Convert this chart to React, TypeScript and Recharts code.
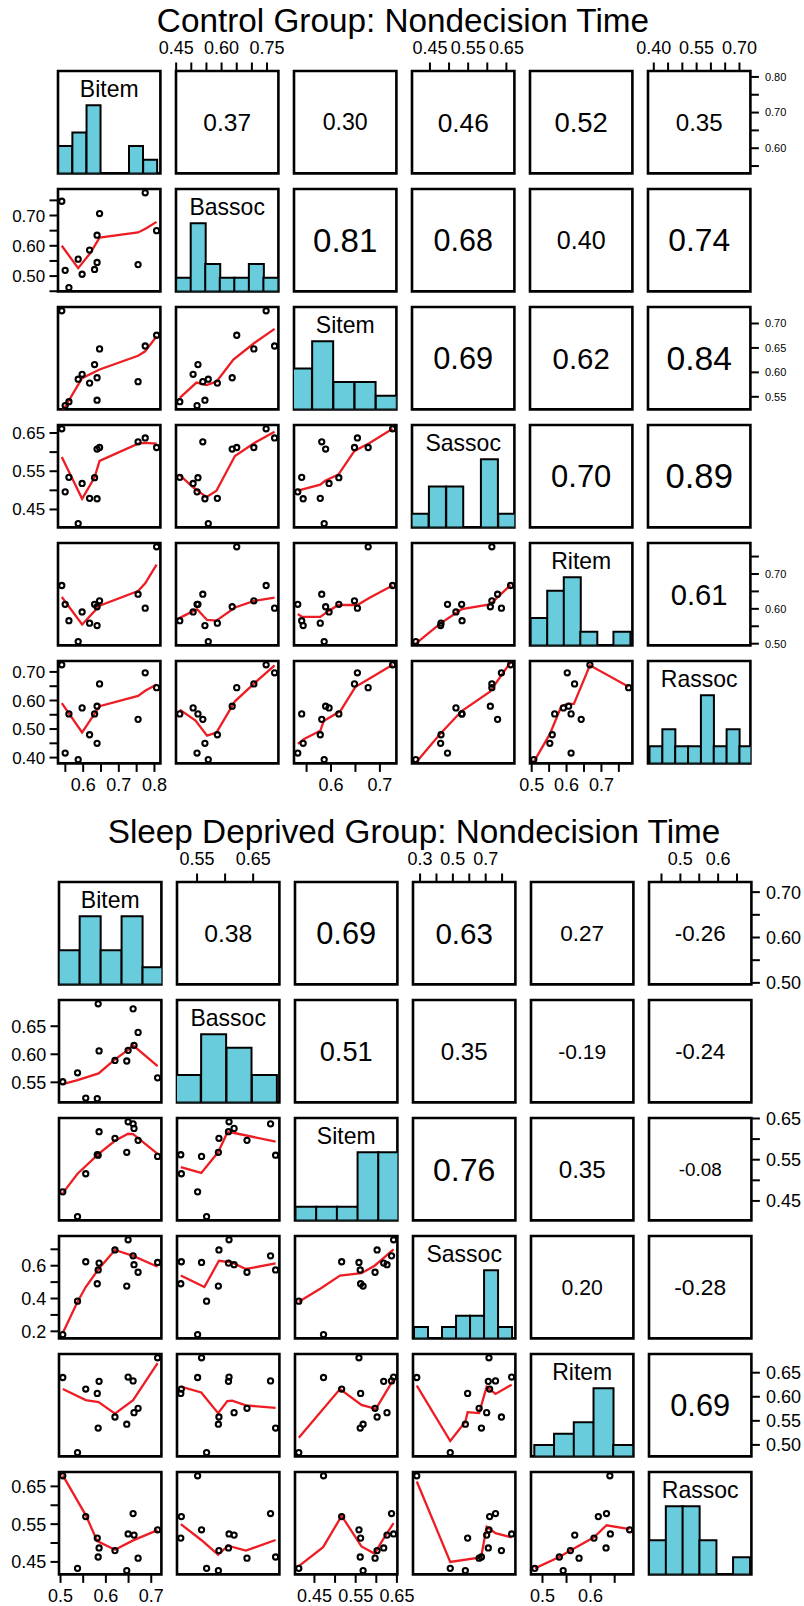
import React from "react";
import { Bar, ComposedChart, Line, ReferenceArea, Scatter, XAxis, YAxis } from "recharts";

const VARS = ["Bitem", "Bassoc", "Sitem", "Sassoc", "Ritem", "Rassoc"];

// Control group, one value per subject (same subject order in every array)
const ctlBitem = [0.54, 0.5495, 0.56, 0.586, 0.597, 0.618, 0.632, 0.639, 0.639, 0.646, 0.754, 0.774, 0.806];
const ctlBassoc = [0.747, 0.519, 0.462, 0.556, 0.506, 0.586, 0.522, 0.545, 0.635, 0.7065, 0.538, 0.775, 0.65];
const ctlSitem = [0.726, 0.532, 0.54, 0.586, 0.596, 0.578, 0.616, 0.543, 0.589, 0.648, 0.581, 0.654, 0.676];
const ctlSassoc = [0.661, 0.496, 0.534, 0.413, 0.518, 0.479, 0.533, 0.478, 0.608, 0.612, 0.627, 0.637, 0.612];
const ctlRitem = [0.667, 0.613, 0.566, 0.506, 0.591, 0.559, 0.613, 0.552, 0.606, 0.623, 0.642, 0.602, 0.778];
const ctlRassoc = [0.725, 0.416, 0.553, 0.393, 0.574, 0.48, 0.553, 0.45, 0.58, 0.658, 0.534, 0.697, 0.645];

// Sleep deprived group
const sdBitem = [0.505, 0.5375, 0.5556, 0.581, 0.585, 0.583, 0.62, 0.646, 0.649, 0.662, 0.66, 0.671, 0.714];
const sdBassoc = [0.551, 0.567, 0.522, 0.521, 0.606, 0.69, 0.589, 0.588, 0.607, 0.616, 0.681, 0.639, 0.558];
const sdSitem = [0.472, 0.412, 0.516, 0.562, 0.618, 0.561, 0.602, 0.568, 0.642, 0.626, 0.637, 0.597, 0.558];
const sdSassoc = [0.18, 0.384, 0.624, 0.49, 0.616, 0.574, 0.696, 0.476, 0.758, 0.606, 0.66, 0.56, 0.62];
const sdRitem = [0.64, 0.484, 0.616, 0.607, 0.632, 0.535, 0.558, 0.543, 0.641, 0.567, 0.633, 0.576, 0.681];
const sdRassoc = [0.678, 0.433, 0.57, 0.513, 0.487, 0.463, 0.48, 0.427, 0.524, 0.521, 0.578, 0.46, 0.535];

// correlations, upper triangle read row by row
const ctlCors = [0.37, 0.3, 0.46, 0.52, 0.35, 0.81, 0.68, 0.4, 0.74, 0.69, 0.62, 0.84, 0.7, 0.89, 0.61];
const sdCors = [0.38, 0.69, 0.63, 0.27, -0.26, 0.51, 0.35, -0.19, -0.24, 0.76, 0.35, -0.08, 0.2, -0.28, 0.69];

// histogram counts and the span [first break, last break] of each one
const ctlHistCounts = [[2, 3, 5, 0, 0, 2, 1], [1, 5, 2, 1, 1, 2, 1], [3, 5, 2, 2, 1], [1, 3, 3, 0, 5, 1], [2, 4, 5, 1, 0, 1], [1, 2, 1, 1, 4, 1, 2, 1]];
const ctlHistSpan = [[0.53, 0.808], [0.45, 0.786], [0.518, 0.735], [0.402, 0.674], [0.497, 0.782], [0.385, 0.745]];
const sdHistCounts = [[2, 4, 2, 4, 1], [2, 5, 4, 2], [1, 1, 1, 5, 5], [1, 0, 1, 2, 2, 6, 1], [1, 2, 3, 6, 1], [2, 4, 4, 2, 0, 1]];
const sdHistSpan = [[0.496, 0.727], [0.512, 0.693], [0.404, 0.655], [0.163, 0.761], [0.483, 0.688], [0.417, 0.684]];

// smoother lines, [x, y], named by row and column of the panel
const c21 = [[0.54, 0.6], [0.586, 0.526], [0.62, 0.576], [0.646, 0.627], [0.754, 0.644], [0.776, 0.657], [0.806, 0.679]];
const c31 = [[0.54, 0.518], [0.597, 0.588], [0.646, 0.606], [0.754, 0.634], [0.774, 0.643], [0.806, 0.674]];
const c41 = [[0.54, 0.587], [0.597, 0.478], [0.632, 0.534], [0.646, 0.577], [0.754, 0.622], [0.774, 0.624], [0.806, 0.622]];
const c51 = [[0.54, 0.634], [0.597, 0.555], [0.646, 0.609], [0.754, 0.651], [0.774, 0.673], [0.806, 0.727]];
const c61 = [[0.54, 0.591], [0.597, 0.488], [0.646, 0.58], [0.754, 0.616], [0.774, 0.634], [0.806, 0.656]];
const c32 = [[0.462, 0.548], [0.517, 0.579], [0.55, 0.574], [0.583, 0.581], [0.639, 0.626], [0.708, 0.66], [0.775, 0.689]];
const c42 = [[0.462, 0.54], [0.506, 0.508], [0.55, 0.482], [0.583, 0.499], [0.644, 0.59], [0.708, 0.624], [0.775, 0.653]];
const c52 = [[0.462, 0.574], [0.519, 0.599], [0.552, 0.568], [0.583, 0.566], [0.644, 0.604], [0.708, 0.623], [0.775, 0.632]];
const c62 = [[0.462, 0.568], [0.514, 0.53], [0.552, 0.477], [0.583, 0.488], [0.644, 0.597], [0.708, 0.66], [0.775, 0.723]];
const c43 = [[0.532, 0.499], [0.578, 0.515], [0.588, 0.525], [0.615, 0.541], [0.648, 0.603], [0.679, 0.624], [0.726, 0.661]];
const c53 = [[0.532, 0.585], [0.541, 0.577], [0.578, 0.577], [0.595, 0.594], [0.615, 0.611], [0.654, 0.611], [0.679, 0.632], [0.726, 0.667]];
const c63 = [[0.532, 0.448], [0.545, 0.465], [0.578, 0.494], [0.585, 0.528], [0.619, 0.563], [0.65, 0.648], [0.679, 0.677], [0.726, 0.725]];
const c54 = [[0.413, 0.5], [0.476, 0.557], [0.533, 0.599], [0.607, 0.613], [0.661, 0.668]];
const c64 = [[0.413, 0.382], [0.476, 0.482], [0.533, 0.563], [0.607, 0.631], [0.661, 0.734]];
const c65 = [[0.506, 0.385], [0.552, 0.482], [0.585, 0.58], [0.604, 0.588], [0.621, 0.588], [0.667, 0.723], [0.778, 0.648]];

const s21 = [[0.505, 0.547], [0.5375, 0.554], [0.584, 0.566], [0.62, 0.591], [0.646, 0.606], [0.66, 0.616], [0.714, 0.579]];
const s31 = [[0.505, 0.469], [0.5375, 0.516], [0.584, 0.564], [0.62, 0.596], [0.649, 0.613], [0.66, 0.612], [0.714, 0.564]];
const s41 = [[0.505, 0.19], [0.5375, 0.38], [0.5556, 0.47], [0.584, 0.58], [0.62, 0.696], [0.66, 0.66], [0.714, 0.594]];
const s51 = [[0.505, 0.616], [0.5556, 0.593], [0.584, 0.589], [0.62, 0.565], [0.66, 0.593], [0.714, 0.67]];
const s61 = [[0.505, 0.679], [0.5556, 0.574], [0.581, 0.505], [0.62, 0.482], [0.66, 0.507], [0.714, 0.534]];
const s32 = [[0.521, 0.532], [0.5575, 0.518], [0.5875, 0.568], [0.604, 0.616], [0.612, 0.616], [0.69, 0.594]];
const s42 = [[0.521, 0.54], [0.563, 0.47], [0.589, 0.63], [0.612, 0.62], [0.637, 0.58], [0.69, 0.614]];
const s52 = [[0.521, 0.621], [0.5575, 0.609], [0.5875, 0.566], [0.604, 0.591], [0.6125, 0.592], [0.637, 0.582], [0.69, 0.577]];
const s62 = [[0.521, 0.55], [0.5575, 0.508], [0.5875, 0.469], [0.605, 0.493], [0.637, 0.48], [0.69, 0.508]];
const s43 = [[0.412, 0.38], [0.464, 0.46], [0.512, 0.54], [0.564, 0.554], [0.596, 0.6], [0.642, 0.7]];
const s53 = [[0.412, 0.515], [0.512, 0.616], [0.564, 0.583], [0.599, 0.575], [0.642, 0.636]];
const s63 = [[0.412, 0.439], [0.471, 0.489], [0.516, 0.572], [0.564, 0.491], [0.596, 0.472], [0.615, 0.507], [0.642, 0.553]];
const s54 = [[0.18, 0.623], [0.384, 0.508], [0.476, 0.548], [0.49, 0.568], [0.56, 0.566], [0.606, 0.621], [0.66, 0.606], [0.758, 0.625]];
const s64 = [[0.18, 0.663], [0.384, 0.45], [0.56, 0.461], [0.574, 0.467], [0.606, 0.543], [0.66, 0.526], [0.758, 0.515]];
const s65 = [[0.484, 0.433], [0.535, 0.463], [0.558, 0.48], [0.607, 0.515], [0.633, 0.547], [0.681, 0.537]];

// axis ticks per variable, and the labels printed on each side ("" = bare tick)
const ctlTicks = [
  [0.55, 0.6, 0.65, 0.7, 0.75, 0.8],
  [0.45, 0.5, 0.55, 0.6, 0.65, 0.7, 0.75],
  [0.55, 0.6, 0.65, 0.7],
  [0.45, 0.5, 0.55, 0.6, 0.65],
  [0.5, 0.55, 0.6, 0.65, 0.7, 0.75],
  [0.4, 0.45, 0.5, 0.55, 0.6, 0.65, 0.7],
];
const ctlTopLab: Record<number, string[]> = {
  1: ["0.45", "", "", "0.60", "", "", "0.75"],
  3: ["0.45", "", "0.55", "", "0.65"],
  5: ["0.40", "", "", "0.55", "", "", "0.70"],
};
const ctlBottomLab: Record<number, string[]> = {
  0: ["", "0.6", "", "0.7", "", "0.8"],
  2: ["", "0.6", "", "0.7"],
  4: ["0.5", "", "0.6", "", "0.7", ""],
};
const ctlLeftLab: Record<number, string[]> = {
  1: ["", "0.50", "", "0.60", "", "0.70", ""],
  3: ["0.45", "", "0.55", "", "0.65"],
  5: ["0.40", "", "0.50", "", "0.60", "", "0.70"],
};
const ctlRightLab: Record<number, string[]> = {
  0: ["", "0.60", "", "0.70", "", "0.80"],
  2: ["0.55", "0.60", "0.65", "0.70"],
  4: ["0.50", "", "0.60", "", "0.70", ""],
};

const sdTicks = [
  [0.5, 0.55, 0.6, 0.65, 0.7],
  [0.55, 0.6, 0.65],
  [0.45, 0.5, 0.55, 0.6, 0.65],
  [0.2, 0.3, 0.4, 0.5, 0.6, 0.7],
  [0.5, 0.55, 0.6, 0.65],
  [0.45, 0.5, 0.55, 0.6, 0.65],
];
// the Sassoc top labels sit one tick to the left in the original
const sdTopLab: Record<number, string[]> = {
  1: ["0.55", "", "0.65"],
  3: ["0.3", "", "0.5", "", "0.7", ""],
  5: ["", "0.5", "", "0.6", ""],
};
const sdBottomLab: Record<number, string[]> = {
  0: ["0.5", "", "0.6", "", "0.7"],
  2: ["0.45", "", "0.55", "", "0.65"],
  4: ["0.5", "", "0.6", ""],
};
const sdLeftLab: Record<number, string[]> = {
  1: ["0.55", "0.60", "0.65"],
  3: ["0.2", "", "0.4", "", "0.6", ""],
  5: ["0.45", "", "0.55", "", "0.65"],
};
const sdRightLab: Record<number, string[]> = {
  0: ["0.50", "", "0.60", "", "0.70"],
  2: ["0.45", "", "0.55", "", "0.65"],
  4: ["0.50", "0.55", "0.60", "0.65"],
};

const PLOT = 102.4;
const PITCH = 118;
const M = 55;
const AX = 40;
const AY = 50;
const INK = "#000";
const HIST_FILL = "#68CCDC";
const SMOOTH = "#EE1D23";

type Group = {
  title: string;
  titleX: number;
  titleY: number;
  x0: number;
  y0: number;
  dy: number;
  vals: number[][];
  cors: number[];
  histCounts: number[][];
  histSpan: number[][];
  smooth: Record<string, number[][]>;
  ticks: number[][];
  topLab: Record<number, string[]>;
  bottomLab: Record<number, string[]>;
  leftLab: Record<number, string[]>;
  rightLab: Record<number, string[]>;
  leftFont: number;
  rightFont: number;
};

const GROUPS: Group[] = [
  {
    title: "Control Group: Nondecision Time",
    titleX: 403,
    titleY: 31.7,
    x0: 58.3,
    y0: 70.6,
    dy: 118,
    vals: [ctlBitem, ctlBassoc, ctlSitem, ctlSassoc, ctlRitem, ctlRassoc],
    cors: ctlCors,
    histCounts: ctlHistCounts,
    histSpan: ctlHistSpan,
    smooth: { "21": c21, "31": c31, "41": c41, "51": c51, "61": c61, "32": c32, "42": c42, "52": c52, "62": c62, "43": c43, "53": c53, "63": c63, "54": c54, "64": c64, "65": c65 },
    ticks: ctlTicks,
    topLab: ctlTopLab,
    bottomLab: ctlBottomLab,
    leftLab: ctlLeftLab,
    rightLab: ctlRightLab,
    leftFont: 17,
    rightFont: 11,
  },
  {
    title: "Sleep Deprived Group: Nondecision Time",
    titleX: 414,
    titleY: 843.3,
    x0: 58.8,
    y0: 882,
    dy: 117.9,
    vals: [sdBitem, sdBassoc, sdSitem, sdSassoc, sdRitem, sdRassoc],
    cors: sdCors,
    histCounts: sdHistCounts,
    histSpan: sdHistSpan,
    smooth: { "21": s21, "31": s31, "41": s41, "51": s51, "61": s61, "32": s32, "42": s42, "52": s52, "62": s62, "43": s43, "53": s53, "63": s63, "54": s54, "64": s64, "65": s65 },
    ticks: sdTicks,
    topLab: sdTopLab,
    bottomLab: sdBottomLab,
    leftLab: sdLeftLab,
    rightLab: sdRightLab,
    leftFont: 18,
    rightFont: 18,
  },
];

// R's pairs() pads each variable's range by 4%
function padRange(v: number[]): [number, number] {
  const lo = Math.min(...v);
  const hi = Math.max(...v);
  const r = hi - lo;
  return [lo - 0.04 * r, hi + 0.04 * r];
}

function corIndex(i: number, j: number) {
  let k = 0;
  for (let r = 0; r < i; r++) k += 5 - r;
  return k + (j - i - 1);
}

function labeller(ticks: number[], lab?: string[]) {
  return (v: number) => {
    const k = ticks.findIndex((t) => Math.abs(t - v) < 1e-9);
    return lab && k >= 0 ? lab[k] : "";
  };
}

const circle = (p: any) => (
  <circle cx={p.cx} cy={p.cy} r={2.6} fill="none" stroke={INK} strokeWidth={2.1} />
);

function Panel({ g, i, j }: { g: Group; i: number; j: number }) {
  const doms = g.vals.map(padRange);
  const left = g.x0 + j * PITCH;
  const top = g.y0 + i * g.dy;
  const xDom = doms[j];
  const diag = i === j;
  const lower = i > j;

  const xLab = i === 0 && j % 2 === 1 ? g.topLab[j] : i === 5 && j % 2 === 0 ? g.bottomLab[j] : undefined;
  const xSide = i === 0 ? "top" : "bottom";
  const yLab = j === 0 && i % 2 === 1 ? g.leftLab[i] : j === 5 && i % 2 === 0 ? g.rightLab[i] : undefined;
  const ySide = j === 0 ? "left" : "right";

  const margin = {
    top: M - (xLab && xSide === "top" ? AX : 0),
    bottom: M - (xLab && xSide === "bottom" ? AX : 0),
    left: M - (yLab && ySide === "left" ? AY : 0),
    right: M - (yLab && ySide === "right" ? AY : 0),
  };

  let yDom = doms[i];
  let hist: { x: number; n: number }[] | undefined;
  if (diag) {
    const counts = g.histCounts[i];
    const span = g.histSpan[i];
    const w = (span[1] - span[0]) / counts.length;
    hist = counts.map((n, k) => ({ x: span[0] + (k + 0.5) * w, n }));
    yDom = [0, Math.max(...counts) * 1.5];
  }

  const pts = lower ? g.vals[j].map((x, k) => ({ x, y: g.vals[i][k] })) : [];
  const line = lower ? g.smooth[`${i + 1}${j + 1}`].map(([x, y]) => ({ x, y })) : [];

  let boxLabel: any = undefined;
  if (diag) {
    boxLabel = { value: VARS[i], position: "insideTop", offset: 10, fontSize: 23, fill: INK };
  } else if (!lower) {
    const r = g.cors[corIndex(i, j)];
    boxLabel = { value: r.toFixed(2), position: "center", fontSize: 17.3 + 19.5 * Math.abs(r), fill: INK };
  }

  return (
    <div style={{ position: "absolute", left: left - M, top: top - M }}>
      <ComposedChart
        width={PLOT + 2 * M}
        height={PLOT + 2 * M}
        margin={margin}
        data={hist}
        barCategoryGap={0}
        barGap={0}
      >
        <XAxis
          type="number"
          dataKey="x"
          domain={xDom}
          allowDataOverflow
          ticks={g.ticks[j]}
          interval={0}
          orientation={xSide}
          hide={!xLab}
          height={AX}
          tickFormatter={labeller(g.ticks[j], xLab)}
          axisLine={false}
          tickLine={{ stroke: INK, strokeWidth: 2 }}
          tickSize={8.5}
          tickMargin={xSide === "top" ? 8.8 : 6}
          tick={{ fontSize: 18, fill: INK }}
        />
        <YAxis
          type="number"
          dataKey="y"
          domain={yDom}
          allowDataOverflow
          ticks={diag ? undefined : g.ticks[i]}
          interval={0}
          orientation={ySide}
          hide={!yLab}
          width={AY}
          tickFormatter={labeller(g.ticks[i], yLab)}
          axisLine={false}
          tickLine={{ stroke: INK, strokeWidth: 2 }}
          tickSize={8.5}
          tickMargin={ySide === "left" ? 4.3 : 6}
          tick={{ fontSize: ySide === "left" ? g.leftFont : g.rightFont, fill: INK }}
        />
        {diag && (
          <Bar dataKey="n" fill={HIST_FILL} stroke={INK} strokeWidth={2} isAnimationActive={false} />
        )}
        {lower && (
          <Scatter data={pts} shape={circle} isAnimationActive={false} />
        )}
        {lower && (
          <Line
            data={line}
            dataKey="y"
            type="linear"
            stroke={SMOOTH}
            strokeWidth={2.3}
            dot={false}
            activeDot={false}
            isAnimationActive={false}
          />
        )}
        <ReferenceArea
          x1={xDom[0]}
          x2={xDom[1]}
          y1={yDom[0]}
          y2={yDom[1]}
          fill="none"
          fillOpacity={0}
          stroke={INK}
          strokeWidth={2.6}
          ifOverflow="visible"
          label={boxLabel}
        />
      </ComposedChart>
    </div>
  );
}

export default function App() {
  const cells: { i: number; j: number }[] = [];
  for (let i = 0; i < 6; i++) for (let j = 0; j < 6; j++) cells.push({ i, j });
  return (
    <div
      style={{
        position: "absolute",
        left: 0,
        top: 0,
        width: 804,
        height: 1606,
        overflow: "hidden",
        background: "#fff",
        fontFamily: '"Liberation Sans", Arial, Helvetica, sans-serif',
      }}
    >
      <svg width={804} height={1606} style={{ position: "absolute", left: 0, top: 0 }}>
        {GROUPS.map((g) => (
          <text key={g.title} x={g.titleX} y={g.titleY} textAnchor="middle" fontSize={33.3} fill={INK}>
            {g.title}
          </text>
        ))}
      </svg>
      {GROUPS.map((g, gi) =>
        cells.map(({ i, j }) => <Panel key={`${gi}-${i}-${j}`} g={g} i={i} j={j} />)
      )}
    </div>
  );
}
